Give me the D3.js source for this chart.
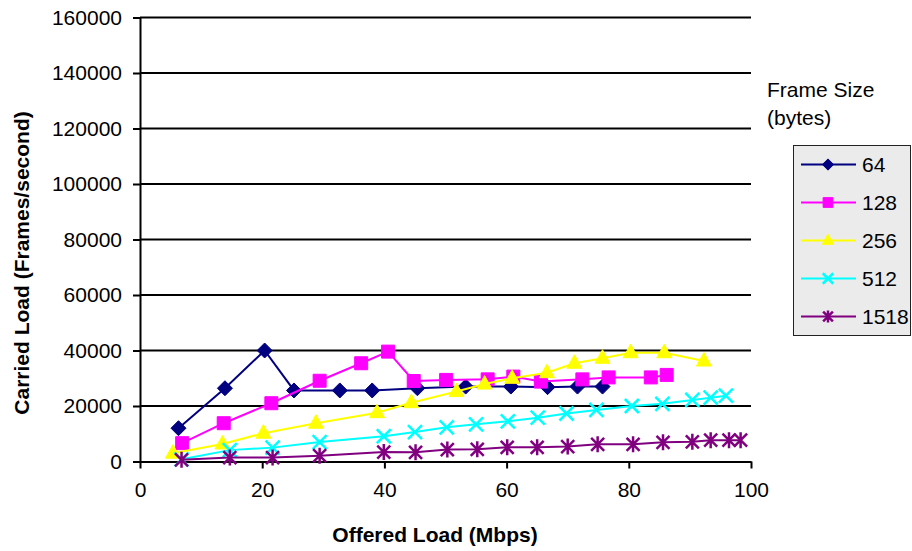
<!DOCTYPE html>
<html>
<head>
<meta charset="utf-8">
<script src="https://cdn.jsdelivr.net/npm/d3@7"></script>
<style>
  html, body { margin: 0; padding: 0; background: #ffffff; }
  svg text { font-family: "Liberation Sans", Arial, Helvetica, sans-serif; fill: #000; }
</style>
</head>
<body>
<svg id="chart" width="912" height="551"></svg>
<script>
// Offered load (Mbps) and carried load (frames/second) per frame size
const load64 = [6.3, 13.9, 20.4, 25.2, 32.7, 38.0, 45.4, 53.3, 60.7, 66.7, 71.6, 75.7];
const fps64 = [12000, 26400, 40000, 25600, 25600, 25600, 26400, 27000, 27000, 26800, 27000, 27000];

const load128 = [6.9, 13.7, 21.5, 29.4, 36.2, 40.6, 44.8, 50.1, 56.9, 61.1, 65.6, 72.4, 76.7, 83.6, 86.2];
const fps128 = [6600, 13800, 21000, 29100, 35400, 39600, 29000, 29400, 29600, 30600, 28800, 29600, 30300, 30300, 31200];

const load256 = [5.4, 13.5, 20.2, 28.8, 38.8, 44.4, 51.8, 56.4, 60.9, 66.6, 71.1, 75.7, 80.3, 85.8, 92.3];
const fps256 = [3000, 6300, 10200, 13800, 17600, 21200, 25200, 27900, 30000, 32000, 35400, 37200, 39200, 39200, 36200];

const load512 = [6.8, 14.7, 21.7, 29.4, 39.9, 45.0, 50.2, 55.0, 60.2, 65.1, 69.8, 74.7, 80.5, 85.5, 90.4, 93.4, 95.9];
const fps512 = [800, 4100, 5000, 7000, 9100, 10600, 12300, 13400, 14500, 15800, 17300, 18600, 20000, 20800, 22200, 23000, 23700];

const load1518 = [6.8, 14.7, 21.7, 29.4, 39.9, 45.1, 50.3, 55.2, 60.1, 65.0, 70.0, 74.9, 80.7, 85.6, 90.4, 93.4, 96.4, 98.3];
const fps1518 = [600, 1400, 1400, 2100, 3400, 3300, 4300, 4400, 5100, 5100, 5400, 6200, 6200, 6900, 7100, 7700, 7700, 7700];

const frameSizes = ["64", "128", "256", "512", "1518"];
const seriesColors = ["#000080", "#ff00ff", "#ffff00", "#00ffff", "#800080"];
const markerKinds = ["diamond", "square", "triangle", "cross", "star"];

const xTicks = [0, 20, 40, 60, 80, 100];
const yTicks = [0, 20000, 40000, 60000, 80000, 100000, 120000, 140000, 160000];

const xTitle = "Offered Load (Mbps)";
const yTitle = "Carried Load (Frames/second)";
const legendTitle = ["Frame Size", "(bytes)"];

const series = [
  [load64, fps64], [load128, fps128], [load256, fps256], [load512, fps512], [load1518, fps1518]
].map(([xs, ys], i) => ({
  name: frameSizes[i],
  color: seriesColors[i],
  marker: markerKinds[i],
  points: xs.map((x, j) => ({ x, y: ys[j] }))
}));

const svg = d3.select("#chart");
const FONT = 21;

const x = d3.scaleLinear().domain([0, 100]).range([140, 751]);
const y = d3.scaleLinear().domain([0, 160000]).range([461.5, 17.5]);

// Horizontal gridlines
svg.append("g").selectAll("line").data(yTicks.filter(v => v > 0)).join("line")
  .attr("x1", x(0)).attr("x2", x(100))
  .attr("y1", d => y(d)).attr("y2", d => y(d))
  .attr("stroke", "#000").attr("stroke-width", 2);

// Axes
const yAxis = svg.append("g").attr("transform", `translate(${x(0)},0)`)
  .call(d3.axisLeft(y).tickValues(yTicks).tickFormat(d3.format("d")).tickSize(7).tickSizeOuter(0).tickPadding(11));
const xAxis = svg.append("g").attr("transform", `translate(0,${y(0)})`)
  .call(d3.axisBottom(x).tickValues(xTicks).tickFormat(d3.format("d")).tickSize(7).tickSizeOuter(0).tickPadding(14));
[xAxis, yAxis].forEach(g => {
  g.select(".domain").attr("stroke", "#000").attr("stroke-width", 2);
  g.selectAll(".tick line").attr("stroke", "#000").attr("stroke-width", 2);
  g.selectAll(".tick text").attr("font-size", FONT).attr("font-family", null).style("fill", "#000");
});

// Marker shapes
function markerPath(kind) {
  switch (kind) {
    case "diamond": return "M0,-7.5L7.5,0L0,7.5L-7.5,0Z";
    case "square": return "M-6.5,-6.5H6.5V6.5H-6.5Z";
    case "triangle": return "M0,-8.5L7.5,5L-7.5,5Z";
    case "cross": return "M-7,-7L7,7M-7,7L7,-7";
    case "star": return "M-6.5,-6.5L6.5,6.5M-6.5,6.5L6.5,-6.5M0,-8L0,8";
  }
}
function drawMarker(sel, s, scale) {
  const open = s.marker === "cross" || s.marker === "star";
  sel.append("path").attr("d", markerPath(s.marker))
    .attr("transform", `scale(${scale})`)
    .attr("fill", open ? "none" : s.color)
    .attr("stroke", s.color)
    .attr("stroke-width", (open ? 2.5 : 1) / scale)
    .attr("stroke-linejoin", "miter");
}

const line = d3.line().x(d => x(d.x)).y(d => y(d.y));

// Series lines and markers, later series drawn over earlier ones
series.forEach(s => {
  const g = svg.append("g");
  g.append("path").datum(s.points).attr("d", line)
    .attr("fill", "none").attr("stroke", s.color).attr("stroke-width", 2);
  g.selectAll("g.pt").data(s.points).join("g").attr("class", "pt")
    .attr("transform", d => `translate(${x(d.x)},${y(d.y)})`)
    .each(function () { drawMarker(d3.select(this), s, 1); });
});

// Axis titles
svg.append("text").attr("x", 435).attr("y", 535).attr("dy", "0.35em")
  .attr("text-anchor", "middle").attr("font-size", FONT).attr("font-weight", "bold").text(xTitle);
svg.append("text").attr("transform", "translate(22,263) rotate(-90)").attr("dy", "0.35em")
  .attr("text-anchor", "middle").attr("font-size", FONT).attr("font-weight", "bold").text(yTitle);

// Legend
svg.append("g").selectAll("text").data(legendTitle).join("text")
  .attr("x", 767).attr("y", (d, i) => 90 + i * 28).attr("dy", "0.35em")
  .attr("font-size", FONT).text(d => d);

const legend = svg.append("g");
legend.append("rect").attr("x", 793.5).attr("y", 145.5).attr("width", 117).attr("height", 190)
  .attr("fill", "#ebebeb").attr("stroke", "#222").attr("stroke-width", 1);
series.forEach((s, i) => {
  const row = legend.append("g").attr("transform", `translate(0,${164.5 + i * 38})`);
  row.append("line").attr("x1", 801).attr("x2", 856).attr("y1", 0).attr("y2", 0)
    .attr("stroke", s.color).attr("stroke-width", 2);
  drawMarker(row.append("g").attr("transform", "translate(828,0)"), s, 0.75);
  row.append("text").attr("x", 862).attr("dy", "0.35em").attr("font-size", FONT).text(s.name);
});
</script>
</body>
</html>
